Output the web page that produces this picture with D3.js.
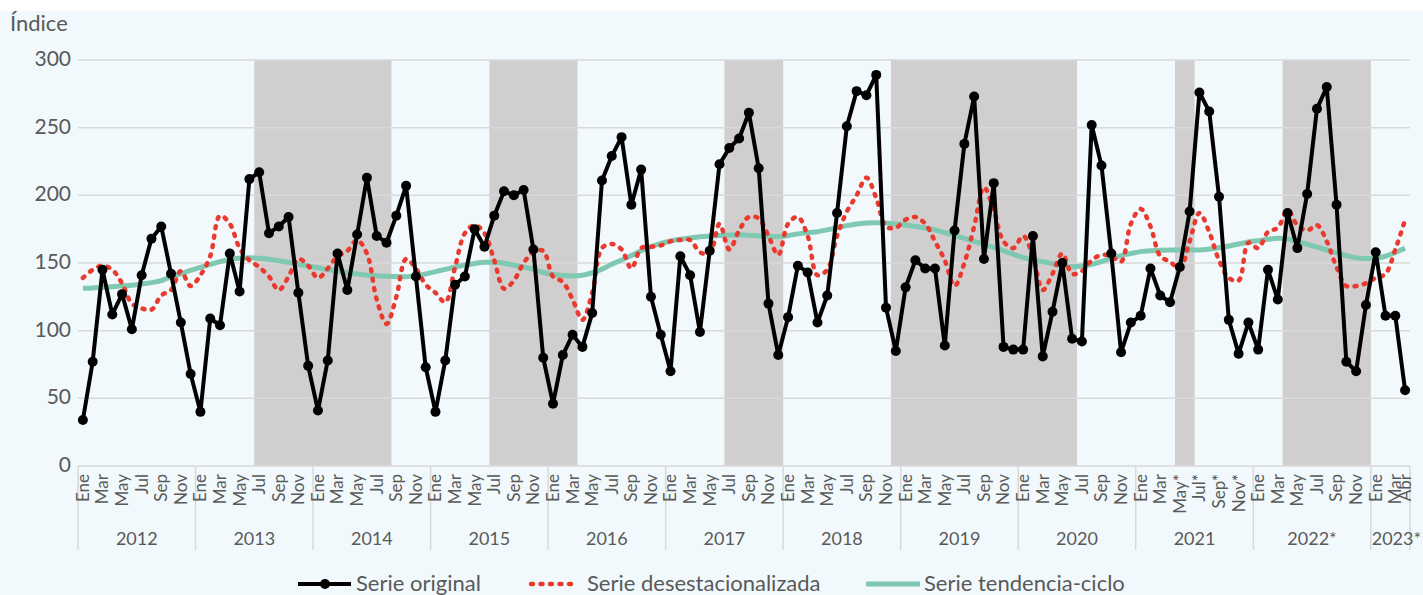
<!DOCTYPE html>
<html>
<head>
<meta charset="utf-8">
<script src="https://cdn.jsdelivr.net/npm/d3@7"></script>
<style>
  body { margin: 0; background: #fff; }
  text { font-family: Lato, "Open Sans", sans-serif; fill: #595959; }
</style>
</head>
<body>
<svg id="chart" width="1423" height="595"></svg>
<script>
// datos
var anios = ["2012", "2013", "2014", "2015", "2016", "2017", "2018", "2019", "2020", "2021", "2022*", "2023*"];
var mesesAbr = ["Ene", "Feb", "Mar", "Abr", "May", "Jun", "Jul", "Ago", "Sep", "Oct", "Nov", "Dic"];
var mesesConAsterisco = ["2021-05", "2021-07", "2021-09", "2021-11"];
var yTicks = [0, 50, 100, 150, 200, 250, 300];

var serieOriginal = [
  34, 77, 145, 112, 127, 101, 141, 168, 177, 142, 106, 68,
  40, 109, 104, 157, 129, 212, 217, 172, 177, 184, 128, 74,
  41, 78, 157, 130, 171, 213, 170, 165, 185, 207, 140, 73,
  40, 78, 134, 140, 175, 162, 185, 203, 200, 204, 160, 80,
  46, 82, 97, 88, 113, 211, 229, 243, 193, 219, 125, 97,
  70, 155, 141, 99, 159, 223, 235, 242, 261, 220, 120, 82,
  110, 148, 143, 106, 126, 187, 251, 277, 274, 289, 117, 85,
  132, 152, 146, 146, 89, 174, 238, 273, 153, 209, 88, 86,
  86, 170, 81, 114, 150, 94, 92, 252, 222, 157, 84, 106,
  111, 146, 126, 121, 147, 188, 276, 262, 199, 108, 83, 106,
  86, 145, 123, 187, 161, 201, 264, 280, 193, 77, 70, 119,
  158, 111, 111, 56
];

var serieDesest = [
  139, 145, 148, 145, 135, 120, 116.5, 115.5, 126, 130, 144, 133,
  141, 155, 185, 179, 161, 152, 147, 140, 130, 140, 153, 148,
  139, 146, 155, 159, 167, 157, 123, 105, 125, 153, 146, 134,
  128, 121, 147, 172, 178, 172, 152, 131, 137, 150, 158, 159,
  140, 136, 123, 108, 128, 161, 164, 160, 146, 161, 162, 163,
  166, 167, 167, 158, 157, 179, 160, 174, 184, 183, 170, 156,
  179, 184, 170, 141, 145, 170, 188, 200, 213, 198, 177, 176,
  182, 184, 179, 166, 152, 133, 150, 177, 206, 189, 166, 161,
  170, 155, 130, 142, 157, 142, 144, 152, 156, 155, 151, 179,
  190, 177, 155, 151, 146, 166, 187, 173, 152, 139, 137, 165,
  161, 173, 176, 189, 178, 174, 178, 166, 147, 133, 133, 135,
  139, 142, 160, 182
];

var serieTendencia = [
  131.3, 131.5, 132, 132.5, 133, 133.5, 134.5, 135.5, 137, 140, 142, 144.5,
  146.8, 149, 151, 152.7, 153.5, 153.9, 153.5, 152.8, 151.7, 150.5, 149, 147.8,
  146.5, 145, 144, 142.8, 141.8, 141, 140.6, 140.2, 140, 139.9, 140.5, 142,
  143.6, 145.3, 147, 148.5, 149.7, 150.5, 150.5, 149.8, 148.5, 147, 145.3, 143,
  141.5, 140.7, 140.4, 141, 142.8, 145.5, 149, 152.2, 155.5, 159, 162, 164.5,
  166.3, 167.5, 168.5, 169.4, 170, 170.4, 170.6, 170.7, 170.5, 170, 169.7, 169.5,
  170.3, 171.5, 172.5, 173.1, 174.5, 176, 177.6, 178.8, 179.5, 179.8, 179.5, 178.8,
  178.1, 177, 175.8, 174.4, 172.5, 170.5, 168.2, 166, 163.8, 161.6, 159, 156.5,
  154, 152.3, 151, 149.5, 147.5, 147.3, 147.8, 149, 151, 153.5, 155.5, 157,
  158.4, 159, 159.4, 159.6, 159.6, 159.6, 159.6, 160.3, 161.3, 162.6, 164, 165.5,
  166.5, 167.5, 168.2, 167.8, 165.7, 163.8, 161.7, 159.6, 157.5, 155.5, 153.8, 153.3,
  153.5, 155, 157.8, 160.9
];

// periodos sombreados (inicio, fin inclusive)
var periodosSombra = [
  ["2013-07", "2014-08"],
  ["2015-07", "2016-03"],
  ["2017-07", "2017-12"],
  ["2018-12", "2020-06"],
  ["2021-05", "2021-06"],
  ["2022-04", "2022-12"]
];

var svg = d3.select("#chart");
var W = 1423, H = 595;
var mLeft = 78, mRight = 1410, mTop = 60, mBottom = 466;

// lista de meses
var meses = [];
serieOriginal.forEach(function(v, i) {
  var a = 2012 + Math.floor(i / 12), m = i % 12;
  meses.push({ key: a + "-" + (m < 9 ? "0" : "") + (m + 1), anio: a, m: m, i: i });
});
var keys = meses.map(function(d) { return d.key; });

var x = d3.scaleBand().domain(keys).range([mLeft, mRight]).padding(0);
var y = d3.scaleLinear().domain([0, 300]).range([mBottom, mTop]);
var cx = function(k) { return x(k) + x.bandwidth() / 2; };

// fondo
svg.append("rect").attr("width", W).attr("height", H).attr("fill", "#fff");
svg.append("rect").attr("y", 11).attr("width", W).attr("height", H - 11).attr("fill", "#F2F9FC");

// bandas grises
svg.append("g").selectAll("rect").data(periodosSombra).enter().append("rect")
  .attr("x", function(d) { return x(d[0]); })
  .attr("width", function(d) { return x(d[1]) + x.bandwidth() - x(d[0]); })
  .attr("y", y(300))
  .attr("height", y(0) - y(300))
  .attr("fill", "#D0CECF");

// lineas de cuadricula
svg.append("g").selectAll("line").data(yTicks).enter().append("line")
  .attr("x1", mLeft).attr("x2", mRight)
  .attr("y1", function(d) { return y(d); }).attr("y2", function(d) { return y(d); })
  .attr("stroke", "#D9D9D9").attr("stroke-width", 1.5);

svg.append("g").selectAll("text").data(yTicks).enter().append("text")
  .attr("x", 71).attr("y", function(d) { return y(d) + 6; })
  .attr("text-anchor", "end").style("font-size", "21px")
  .text(function(d) { return d; });

svg.append("text").attr("x", 10).attr("y", 31).style("font-size", "22px").text("Índice");

// eje x: separadores de año
var sep = d3.range(0, meses.length, 12).map(function(i) { return x(keys[i]); });
sep.push(mRight);
svg.append("g").selectAll("line").data(sep).enter().append("line")
  .attr("x1", function(d) { return d; }).attr("x2", function(d) { return d; })
  .attr("y1", mBottom).attr("y2", 550)
  .attr("stroke", "#D9D9D9").attr("stroke-width", 1.5);

// etiquetas de mes
var tickMeses = meses.filter(function(d) { return d.m % 2 === 0 || d.i === meses.length - 1; });
svg.append("g").selectAll("text").data(tickMeses).enter().append("text")
  .attr("transform", function(d) { return "translate(" + cx(d.key) + "," + 474 + ") rotate(-90)"; })
  .attr("text-anchor", "end").attr("dy", "0.35em")
  .style("font-size", "17px")
  .text(function(d) {
    return mesesAbr[d.m] + (mesesConAsterisco.indexOf(d.key) >= 0 ? "*" : "");
  });

// etiquetas de año
svg.append("g").selectAll("text").data(anios).enter().append("text")
  .attr("x", function(d, i) {
    var ini = keys[i * 12], fin = keys[Math.min(i * 12 + 11, keys.length - 1)];
    var c = (x(ini) + x(fin) + x.bandwidth()) / 2;
    return i === anios.length - 1 ? c + 6 : c;
  })
  .attr("y", 545).attr("text-anchor", "middle").style("font-size", "18px")
  .text(function(d) { return d; });

// series
var lineaSuave = d3.line()
  .x(function(d, i) { return cx(keys[i]); })
  .y(function(d) { return y(d); })
  .curve(d3.curveCatmullRom.alpha(0.5));
var lineaRecta = d3.line()
  .x(function(d, i) { return cx(keys[i]); })
  .y(function(d) { return y(d); });

svg.append("path").datum(serieTendencia).attr("d", lineaSuave)
  .attr("fill", "none").attr("stroke", "#7FC8B1").attr("stroke-width", 5);

svg.append("path").datum(serieDesest).attr("d", lineaSuave)
  .attr("fill", "none").attr("stroke", "#EA3A2E").attr("stroke-width", 4.5)
  .attr("stroke-linecap", "round").attr("stroke-dasharray", "2 7.5");

svg.append("path").datum(serieOriginal).attr("d", lineaRecta)
  .attr("fill", "none").attr("stroke", "#000").attr("stroke-width", 4)
  .attr("stroke-linejoin", "round");

svg.append("g").selectAll("circle").data(serieOriginal).enter().append("circle")
  .attr("cx", function(d, i) { return cx(keys[i]); })
  .attr("cy", function(d) { return y(d); })
  .attr("r", 5).attr("fill", "#000");

// leyenda
var ly = 584;
var leg = svg.append("g");
leg.append("line").attr("x1", 298).attr("x2", 351).attr("y1", ly).attr("y2", ly)
  .attr("stroke", "#000").attr("stroke-width", 4);
leg.append("circle").attr("cx", 325).attr("cy", ly).attr("r", 5).attr("fill", "#000");
leg.append("text").attr("x", 356).attr("y", ly + 7).style("font-size", "22px").text("Serie original");

leg.append("line").attr("x1", 531).attr("x2", 578).attr("y1", ly).attr("y2", ly)
  .attr("stroke", "#EA3A2E").attr("stroke-width", 4.5)
  .attr("stroke-linecap", "round").attr("stroke-dasharray", "2 7.5");
leg.append("text").attr("x", 587).attr("y", ly + 7).style("font-size", "22px").text("Serie desestacionalizada");

leg.append("line").attr("x1", 866).attr("x2", 920).attr("y1", ly).attr("y2", ly)
  .attr("stroke", "#7FC8B1").attr("stroke-width", 5);
leg.append("text").attr("x", 924).attr("y", ly + 7).style("font-size", "22px").text("Serie tendencia-ciclo");
</script>
</body>
</html>
